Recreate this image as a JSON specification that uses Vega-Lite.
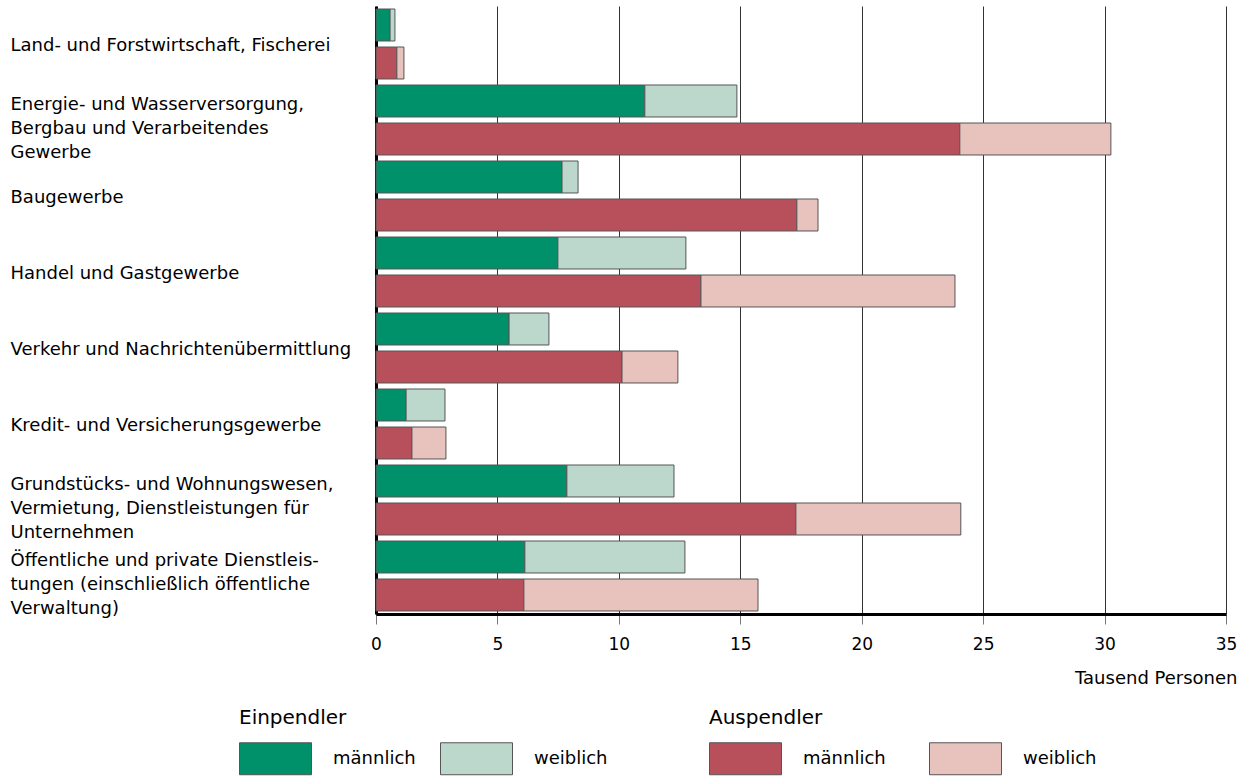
{
  "$schema": "https://vega.github.io/schema/vega-lite/v6.json",
  "width": 850,
  "height": 608,
  "autosize": {"type": "none"},
  "padding": {"left": 376, "top": 6, "right": 25, "bottom": 162},
  "config": {
    "view": {"stroke": null},
    "font": "DejaVu Sans",
    "legend": {"symbolOpacity": 1}
  },
  "data": {"values": [
    {"cat": "Land- und Forstwirtschaft, Fischerei", "typ": "Einpendler", "sex": "männlich", "value": 0.58},
    {"cat": "Land- und Forstwirtschaft, Fischerei", "typ": "Einpendler", "sex": "weiblich", "value": 0.20},
    {"cat": "Land- und Forstwirtschaft, Fischerei", "typ": "Auspendler", "sex": "männlich", "value": 0.86},
    {"cat": "Land- und Forstwirtschaft, Fischerei", "typ": "Auspendler", "sex": "weiblich", "value": 0.29},
    {"cat": "Energie- und Wasserversorgung,|Bergbau und Verarbeitendes|Gewerbe", "typ": "Einpendler", "sex": "männlich", "value": 11.07},
    {"cat": "Energie- und Wasserversorgung,|Bergbau und Verarbeitendes|Gewerbe", "typ": "Einpendler", "sex": "weiblich", "value": 3.79},
    {"cat": "Energie- und Wasserversorgung,|Bergbau und Verarbeitendes|Gewerbe", "typ": "Auspendler", "sex": "männlich", "value": 24.04},
    {"cat": "Energie- und Wasserversorgung,|Bergbau und Verarbeitendes|Gewerbe", "typ": "Auspendler", "sex": "weiblich", "value": 6.22},
    {"cat": "Baugewerbe", "typ": "Einpendler", "sex": "männlich", "value": 7.66},
    {"cat": "Baugewerbe", "typ": "Einpendler", "sex": "weiblich", "value": 0.66},
    {"cat": "Baugewerbe", "typ": "Auspendler", "sex": "männlich", "value": 17.33},
    {"cat": "Baugewerbe", "typ": "Auspendler", "sex": "weiblich", "value": 0.87},
    {"cat": "Handel und Gastgewerbe", "typ": "Einpendler", "sex": "männlich", "value": 7.49},
    {"cat": "Handel und Gastgewerbe", "typ": "Einpendler", "sex": "weiblich", "value": 5.27},
    {"cat": "Handel und Gastgewerbe", "typ": "Auspendler", "sex": "männlich", "value": 13.38},
    {"cat": "Handel und Gastgewerbe", "typ": "Auspendler", "sex": "weiblich", "value": 10.46},
    {"cat": "Verkehr und Nachrichtenübermittlung", "typ": "Einpendler", "sex": "männlich", "value": 5.48},
    {"cat": "Verkehr und Nachrichtenübermittlung", "typ": "Einpendler", "sex": "weiblich", "value": 1.64},
    {"cat": "Verkehr und Nachrichtenübermittlung", "typ": "Auspendler", "sex": "männlich", "value": 10.13},
    {"cat": "Verkehr und Nachrichtenübermittlung", "typ": "Auspendler", "sex": "weiblich", "value": 2.30},
    {"cat": "Kredit- und Versicherungsgewerbe", "typ": "Einpendler", "sex": "männlich", "value": 1.24},
    {"cat": "Kredit- und Versicherungsgewerbe", "typ": "Einpendler", "sex": "weiblich", "value": 1.60},
    {"cat": "Kredit- und Versicherungsgewerbe", "typ": "Auspendler", "sex": "männlich", "value": 1.48},
    {"cat": "Kredit- und Versicherungsgewerbe", "typ": "Auspendler", "sex": "weiblich", "value": 1.40},
    {"cat": "Grundstücks- und Wohnungswesen,|Vermietung, Dienstleistungen für|Unternehmen", "typ": "Einpendler", "sex": "männlich", "value": 7.86},
    {"cat": "Grundstücks- und Wohnungswesen,|Vermietung, Dienstleistungen für|Unternehmen", "typ": "Einpendler", "sex": "weiblich", "value": 4.41},
    {"cat": "Grundstücks- und Wohnungswesen,|Vermietung, Dienstleistungen für|Unternehmen", "typ": "Auspendler", "sex": "männlich", "value": 17.29},
    {"cat": "Grundstücks- und Wohnungswesen,|Vermietung, Dienstleistungen für|Unternehmen", "typ": "Auspendler", "sex": "weiblich", "value": 6.79},
    {"cat": "Öffentliche und private Dienstleis-|tungen (einschließlich öffentliche|Verwaltung)", "typ": "Einpendler", "sex": "männlich", "value": 6.13},
    {"cat": "Öffentliche und private Dienstleis-|tungen (einschließlich öffentliche|Verwaltung)", "typ": "Einpendler", "sex": "weiblich", "value": 6.59},
    {"cat": "Öffentliche und private Dienstleis-|tungen (einschließlich öffentliche|Verwaltung)", "typ": "Auspendler", "sex": "männlich", "value": 6.09},
    {"cat": "Öffentliche und private Dienstleis-|tungen (einschließlich öffentliche|Verwaltung)", "typ": "Auspendler", "sex": "weiblich", "value": 9.64}
  ]},
  "encoding": {
    "y": {
      "field": "cat", "type": "nominal", "sort": null,
      "scale": {"paddingInner": 0, "paddingOuter": 0},
      "axis": {
        "title": null, "ticks": false, "grid": false,
        "domainColor": "#000000", "domainWidth": 3,
        "labelAlign": "left", "labelPadding": 366, "labelBaseline": "middle",
        "labelExpr": "split(datum.label, '|')",
        "labelFontSize": 18, "labelLineHeight": 24, "labelColor": "#000000",
        "labelLimit": 400,
        "labelOffset": {"condition": {"test": "indexof(datum.label, '|') >= 0", "value": -15}, "value": 2}
      }
    },
    "yOffset": {
      "field": "typ", "type": "nominal",
      "scale": {"domain": ["Einpendler", "Auspendler"], "paddingInner": 0.158, "paddingOuter": 0.079}
    },
    "x": {
      "field": "value", "type": "quantitative", "stack": "zero",
      "scale": {"domain": [0, 35], "nice": false},
      "axis": {
        "values": [0, 5, 10, 15, 20, 25, 30, 35],
        "title": "Tausend Personen", "titleFontSize": 18, "titleFontWeight": "normal",
        "titleAnchor": "end", "titleAlign": "right", "titleBaseline": "middle",
        "titleX": 861, "titleY": 64, "titleColor": "#000000",
        "grid": true, "gridColor": "#333333", "gridWidth": 1,
        "domainColor": "#000000", "domainWidth": 3,
        "tickColor": "#777777", "tickSize": 10, "tickWidth": 1,
        "labelFontSize": 17, "labelPadding": 12, "labelColor": "#000000",
        "labelFlush": false
      }
    },
    "order": {"field": "sex", "sort": "ascending"}
  },
  "layer": [
    {
      "transform": [{"filter": "datum.typ === 'Einpendler'"}],
      "mark": {"type": "bar", "stroke": "#555555", "strokeWidth": 1},
      "encoding": {
        "color": {
          "field": "sex", "type": "nominal",
          "scale": {"domain": ["männlich", "weiblich"], "range": ["#00906A", "#BCD8CC"]},
          "legend": {
            "title": "Einpendler", "orient": "none", "direction": "horizontal",
            "legendX": -137, "legendY": 702,
            "titleFontSize": 20, "titleFontWeight": "normal", "titleColor": "#000000", "titlePadding": -6,
            "labelFontSize": 18, "labelColor": "#000000", "labelOffset": 21,
            "symbolType": "M-1,-0.444L1,-0.444L1,0.444L-1,0.444Z", "symbolSize": 5184,
            "symbolStrokeColor": "#555555", "symbolStrokeWidth": 1,
            "columnPadding": 22
          }
        }
      }
    },
    {
      "transform": [{"filter": "datum.typ === 'Auspendler'"}],
      "mark": {"type": "bar", "stroke": "#555555", "strokeWidth": 1},
      "encoding": {
        "color": {
          "field": "sex", "type": "nominal",
          "scale": {"domain": ["männlich", "weiblich"], "range": ["#B8505B", "#E8C2BD"]},
          "legend": {
            "title": "Auspendler", "orient": "none", "direction": "horizontal",
            "legendX": 333, "legendY": 702,
            "titleFontSize": 20, "titleFontWeight": "normal", "titleColor": "#000000", "titlePadding": -6,
            "labelFontSize": 18, "labelColor": "#000000", "labelOffset": 21,
            "symbolType": "M-1,-0.444L1,-0.444L1,0.444L-1,0.444Z", "symbolSize": 5184,
            "symbolStrokeColor": "#555555", "symbolStrokeWidth": 1,
            "columnPadding": 41
          }
        }
      }
    }
  ],
  "resolve": {"scale": {"color": "independent"}, "legend": {"color": "independent"}}
}
